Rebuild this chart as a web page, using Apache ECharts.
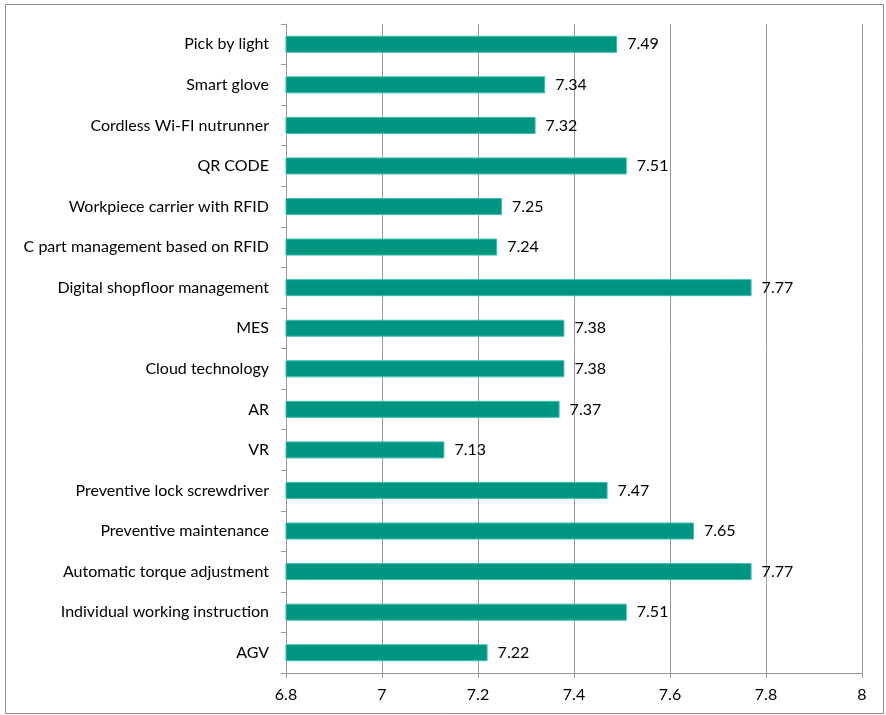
<!DOCTYPE html>
<html>
<head>
<meta charset="utf-8">
<script src="https://cdn.jsdelivr.net/npm/echarts@6/dist/echarts.min.js"></script>
<style>
  html, body { margin: 0; padding: 0; background: #fff; }
  #chart { width: 886px; height: 715px; }
</style>
</head>
<body>
<div id="chart"></div>
<script>
// Technology names, listed top to bottom
const categories = [
  'Pick by light',
  'Smart glove',
  'Cordless Wi-FI nutrunner',
  'QR CODE',
  'Workpiece carrier with RFID',
  'C part management based on RFID',
  'Digital shopfloor management',
  'MES',
  'Cloud technology',
  'AR',
  'VR',
  'Preventive lock screwdriver',
  'Preventive maintenance',
  'Automatic torque adjustment',
  'Individual working instruction',
  'AGV'
];

// Mean score per technology
const scores = [7.49, 7.34, 7.32, 7.51, 7.25, 7.24, 7.77, 7.38, 7.38, 7.37, 7.13, 7.47, 7.65, 7.77, 7.51, 7.22];

// Value axis range
const axisMin = 6.8;
const axisMax = 8;
const axisStep = 0.2;

const fontFamily = 'Lato, "Open Sans", sans-serif';

const chart = echarts.init(document.getElementById('chart'), null, { renderer: 'canvas' });

chart.setOption({
  backgroundColor: '#ffffff',
  animation: false,
  graphic: [{
    type: 'rect',
    shape: { x: 5.5, y: 4.5, width: 878, height: 709 },
    style: { fill: 'none', stroke: '#8c8c8c', lineWidth: 1 },
    silent: true
  }],
  grid: { left: 286, right: 24, top: 24, bottom: 42 },
  xAxis: {
    type: 'value',
    min: axisMin,
    max: axisMax,
    interval: axisStep,
    axisLine: { show: true, lineStyle: { color: '#999999', width: 1 } },
    axisTick: { show: true, length: 5, lineStyle: { color: '#999999' } },
    splitLine: { show: true, lineStyle: { color: '#999999', width: 1 } },
    axisLabel: {
      color: '#000000',
      fontFamily: fontFamily,
      fontSize: 16,
      margin: 14,
      formatter: v => String(Math.round(v * 10) / 10)
    }
  },
  yAxis: {
    type: 'category',
    data: categories,
    inverse: true,
    axisLine: { show: true, lineStyle: { color: '#999999', width: 1 } },
    axisTick: { show: true, length: 5, alignWithLabel: false, lineStyle: { color: '#999999' } },
    splitLine: { show: false },
    axisLabel: {
      color: '#000000',
      fontFamily: fontFamily,
      fontSize: 16,
      margin: 17
    }
  },
  series: [{
    type: 'bar',
    data: scores,
    barCategoryGap: '58%',
    itemStyle: {
      color: '#009580',
      borderColor: '#3fbfb5',
      borderWidth: 1
    },
    label: {
      show: true,
      position: 'right',
      distance: 10,
      color: '#000000',
      fontFamily: fontFamily,
      fontSize: 16,
      formatter: p => p.value.toFixed(2)
    }
  }]
});
</script>
</body>
</html>
